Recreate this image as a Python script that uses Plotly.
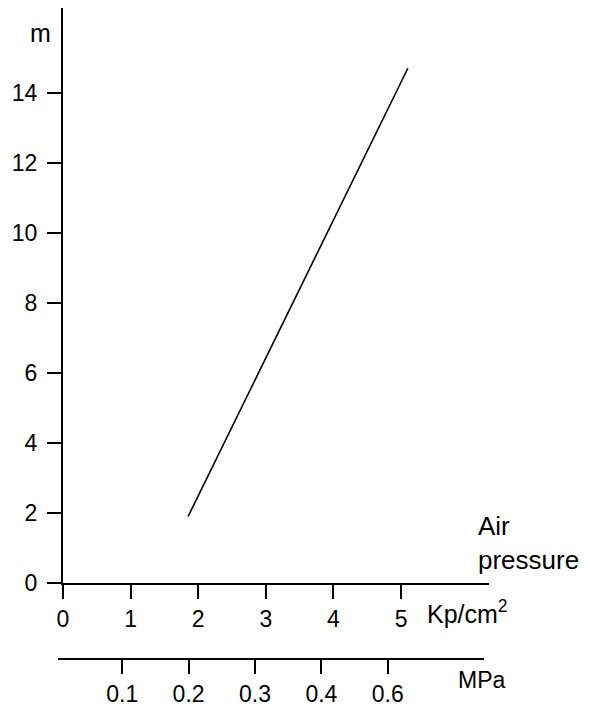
import plotly.graph_objects as go

# data
line_kp = [1.85, 5.1]        # air pressure, Kp/cm2
line_m = [1.9, 14.7]         # height, m
kp_ticks = [0, 1, 2, 3, 4, 5]
kp_labels = ["0", "1", "2", "3", "4", "5"]
m_ticks = [0, 2, 4, 6, 8, 10, 12, 14]
mpa_tick_vals = [0.1, 0.2, 0.3, 0.4, 0.5]
mpa_tick_labels = ["0.1", "0.2", "0.3", "0.4", "0.6"]

FONT = "Liberation Sans, Arial, sans-serif"
FS = 23

fig = go.Figure()
fig.add_trace(go.Scatter(x=line_kp, y=line_m, mode="lines",
                         line=dict(color="black", width=1.6),
                         hoverinfo="skip", showlegend=False))

axis_common = dict(showgrid=False, zeroline=False, showline=True, linecolor="black",
                   linewidth=2, ticks="outside", ticklen=14, tickwidth=2,
                   tickcolor="black", automargin=False,
                   tickfont=dict(family=FONT, size=FS, color="black"))

# page body has an 8px margin, so the figure is 8px smaller and shifted
fig.update_layout(
    width=582, height=698,
    margin=dict(l=50, r=101, t=0, b=47),
    paper_bgcolor="white", plot_bgcolor="rgba(0,0,0,0)",
    font=dict(family=FONT, size=FS, color="black"),
    xaxis=dict(domain=[5/431, 1], range=[0, 6.3], tickvals=kp_ticks, ticktext=kp_labels,
               anchor="y", ticklabelstandoff=0, **axis_common),
    yaxis=dict(domain=[0.1167, 1], range=[0, 16.42], tickvals=m_ticks,
               anchor="x", ticklabelstandoff=5, **axis_common),
    xaxis2=dict(domain=[0, 426/431], range=[0.0033, 0.6449], tickvals=mpa_tick_vals,
                ticktext=mpa_tick_labels, anchor="free", position=0,
                ticklabelstandoff=0, **axis_common),
)

fig.add_annotation(x=-0.0116, y=0.9616, xref="paper", yref="paper", text="m",
                   showarrow=False, xanchor="right", yanchor="middle", font=dict(size=25))
fig.add_annotation(x=0.8515, y=0.0722, xref="paper", yref="paper", text="Kp/cm<sup>2</sup>",
                   showarrow=False, xanchor="left", yanchor="middle", font=dict(size=25))
fig.add_annotation(x=6.11, y=1.13, xref="x", yref="y", text="Air<br>pressure",
                   showarrow=False, xanchor="left", yanchor="middle", align="left",
                   font=dict(size=26))
fig.add_annotation(x=0.603, y=-0.032, xref="x2", yref="paper", text="MPa",
                   showarrow=False, xanchor="left", yanchor="middle", font=dict(size=23))

fig.write_html("out.html")
